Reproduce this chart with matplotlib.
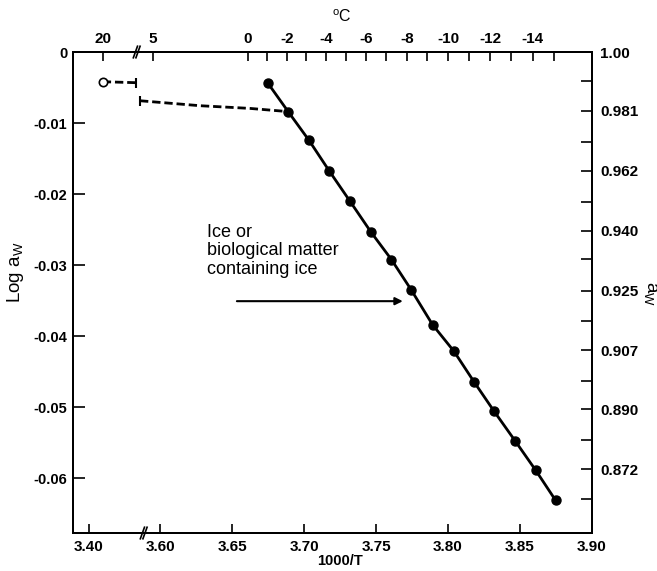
import numpy as np
import matplotlib
matplotlib.use('Agg')
import matplotlib.pyplot as plt

plt.rcParams['font.family'] = ['Liberation Sans', 'DejaVu Sans']
plt.rcParams['mathtext.default'] = 'regular'

# ---- data (1000/T vs log aw) ----
ice_x = [3.6747, 3.6890, 3.7035, 3.7174, 3.7319, 3.7465, 3.7607, 3.7743,
         3.7893, 3.8042, 3.8180, 3.8320, 3.8465, 3.8610, 3.8747]
ice_log_aw = [-0.00432, -0.00839, -0.01244, -0.01670, -0.02099, -0.02534,
              -0.02921, -0.03343, -0.03839, -0.04214, -0.04640, -0.05056,
              -0.05470, -0.05890, -0.06310]

liquid_x = [3.5861, 3.6278, 3.6625, 3.6890]
liquid_log_aw = [-0.00686, -0.00756, -0.00794, -0.00839]

warm_x = [3.4110, 3.4376]
warm_log_aw = [-0.00418, -0.00432]

bottom_ticks = [3.40, 3.60, 3.65, 3.70, 3.75, 3.80, 3.85, 3.90]
bottom_labels = ['3.40', '3.60', '3.65', '3.70', '3.75', '3.80', '3.85', '3.90']
left_ticks = [0, -0.01, -0.02, -0.03, -0.04, -0.05, -0.06]
left_labels = ['0', '-0.01', '-0.02', '-0.03', '-0.04', '-0.05', '-0.06']
top_major_c = [20, 5, 0, -2, -4, -6, -8, -10, -12, -14]
top_minor_c = [-1, -3, -5, -7, -9, -11, -13, -15]
right_tick_pos = [0, -0.00827, -0.0167, -0.02513, -0.03357, -0.04196, -0.05029, -0.05873]
right_labels = ['1.00', '0.981', '0.962', '0.940', '0.925', '0.907', '0.890', '0.872']
right_minor_pos = [-0.00405, -0.01262, -0.02106, -0.02907, -0.0378, -0.04634, -0.05461, -0.06285]

# ---- broken x scale (piecewise linear) ----
_bx = np.array([3.0, 3.438, 3.586, 4.5])
_bu = np.array([89 + (3.0 - 3.40) * 1250, 89 + 0.038 * 1250, 160 - 0.014 * 1440, 160 + 0.9 * 1440])

def fwd(x):
    return np.interp(x, _bx, _bu)

def inv(u):
    return np.interp(u, _bu, _bx)

fig = plt.figure(figsize=(6.57, 5.71), dpi=100)
ax = fig.add_axes([73 / 657, 1 - 533 / 571, (592 - 73) / 657, (533 - 52) / 571])
ax.set_xscale('function', functions=(fwd, inv))
xlim = (3.3872, 3.90)
ylim = (-0.0677, 0.0)
ax.set_xlim(*xlim)
ax.set_ylim(*ylim)

# data
ax.plot(ice_x, ice_log_aw, '-', color='black', lw=2.0, marker='o', ms=6.5, zorder=3)
ax.plot(liquid_x, liquid_log_aw, '--', color='black', lw=2.0, dashes=(3, 1.4), zorder=2)
ax.plot(liquid_x[:1], liquid_log_aw[:1], marker='|', ms=7, mew=1.5, color='black')
ax.plot(warm_x, warm_log_aw, '--', color='black', lw=2.0, dashes=(3, 1.4), zorder=2)
ax.plot(warm_x[:1], warm_log_aw[:1], marker='o', ms=6, mfc='white', mec='black', mew=1.2, zorder=4)
ax.plot(warm_x[-1:], warm_log_aw[-1:], marker='|', ms=7, mew=1.5, color='black')

# annotation
ax.text((207 - 73) / 519, (533 - 224) / 481, 'Ice or\nbiological matter\ncontaining ice',
        transform=ax.transAxes, fontsize=13, va='top', ha='left', linespacing=1.1)
ax.annotate('', xy=(3.7686, -0.03507), xytext=(3.6534, -0.03507),
            arrowprops=dict(arrowstyle='-|>', lw=1.5, color='black', mutation_scale=11,
                            shrinkA=0, shrinkB=0))

# spines & ticks
for sp in ax.spines.values():
    sp.set_linewidth(1.4)
ax.set_xticks(bottom_ticks)
ax.set_xticklabels(bottom_labels)
ax.xaxis.set_minor_locator(matplotlib.ticker.NullLocator())
ax.set_yticks(left_ticks)
ax.set_yticklabels(left_labels)
ax.tick_params(axis='x', direction='in', length=6.5, width=1.2, labelsize=11, pad=5)
ax.tick_params(axis='y', direction='in', length=8.5, width=1.2, labelsize=10.5, pad=4)
for lab in ax.get_xticklabels() + ax.get_yticklabels():
    lab.set_fontweight('bold')

# top axis (deg C)
axt = ax.twiny()
axt.set_xscale('function', functions=(fwd, inv))
axt.set_xlim(*xlim)
axt.set_xticks([1000 / (273.15 + t) for t in top_major_c])
axt.set_xticklabels([str(t) for t in top_major_c])
axt.set_xticks([1000 / (273.15 + t) for t in top_minor_c], minor=True)
axt.tick_params(axis='x', which='both', direction='in', length=6.5, width=1.2, labelsize=11, pad=4)
for lab in axt.get_xticklabels():
    lab.set_fontweight('bold')

# right axis (aw)
axr = ax.twinx()
axr.set_ylim(*ylim)
axr.set_yticks(right_tick_pos)
axr.set_yticklabels(right_labels)
axr.set_yticks(right_minor_pos, minor=True)
axr.tick_params(axis='y', which='both', direction='in', length=8, width=1.2, labelsize=11, pad=6)
for lab in axr.get_yticklabels():
    lab.set_fontweight('bold')
for a in (axt, axr):
    for sp in a.spines.values():
        sp.set_linewidth(1.4)

# axis break marks
for xf, yf in [((138 - 73) / 519, 1.0), ((145 - 73) / 519, 0.0)]:
    for dx in (-0.005, 0.0):
        ax.plot([xf + dx - 0.004, xf + dx + 0.004], [yf - 0.012, yf + 0.012],
                transform=ax.transAxes, color='black', lw=1.2, clip_on=False, zorder=5)

# labels
fig.text(15 / 657, 1 - 272 / 571, 'Log a$_W$', rotation=90, fontsize=13.5, ha='center', va='center')
fig.text(650 / 657, 1 - 293 / 571, 'a$_W$', rotation=270, fontsize=13.5, ha='center', va='center')
fig.text(342 / 657, 1 - 17 / 571, '$^o$C', fontsize=11.5, ha='center', va='center')
fig.text(340 / 657, 1 - 561 / 571, '1000/T', fontsize=10.5, fontweight='bold', ha='center', va='center')

fig.savefig('out.png', dpi=100)
